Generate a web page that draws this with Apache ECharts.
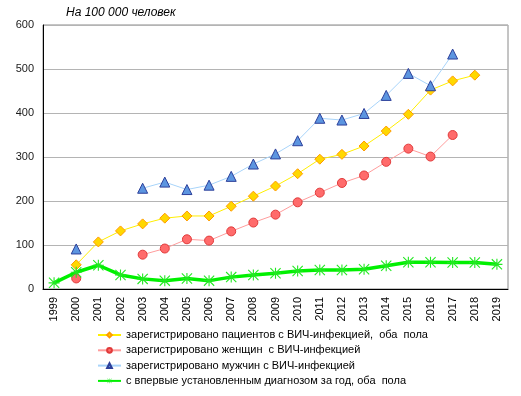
<!DOCTYPE html>
<html>
<head>
<meta charset="utf-8">
<script src="https://cdn.jsdelivr.net/npm/echarts@6/dist/echarts.min.js"></script>
<style>
  html, body { margin: 0; padding: 0; background: #fff; }
  #chart { width: 521px; height: 396px; }
</style>
</head>
<body>
<div id="chart"></div>
<script>
  // годы
  var years = ['1999', '2000', '2001', '2002', '2003', '2004', '2005', '2006', '2007', '2008', '2009',
    '2010', '2011', '2012', '2013', '2014', '2015', '2016', '2017', '2018', '2019']
  // на 100 000 человек
  var totalBoth = [null, 55, 107, 132, 148, 161, 166, 166, 188, 211, 234, 262, 295, 306, 325, 359, 397, 452, 473, 486, null]
  var women = [null, 24, null, null, 78, 92, 113, 110, 131, 151, 169, 197, 219, 241, 258, 289, 319, 301, 350, null, null]
  var men = [null, 91, null, null, 229, 243, 226, 236, 256, 284, 307, 337, 388, 384, 399, 440, 490, 462, 534, null, null]
  var newCases = [14, 38, 54, 32, 23, 19, 24, 19, 27, 32, 36, 41, 43, 43, 45, 53, 61, 61, 60, 60, 56]
  var yTicks = [0, 100, 200, 300, 400, 500, 600]

  var names = [
    'зарегистрировано пациентов с ВИЧ-инфекцией,  оба  пола',
    'зарегистрировано женщин  с ВИЧ-инфекцией',
    'зарегистрировано мужчин с ВИЧ-инфекцией',
    'с впервые установленным диагнозом за год, оба  пола'
  ]

  // звёздочка (*) для зелёной линии
  var asterisk = 'path://M4.5 0 L5.5 0 L5.5 10 L4.5 10 Z M0 4.5 L10 4.5 L10 5.5 L0 5.5 Z ' +
    'M0.7 0 L10 9.3 L9.3 10 L0 0.7 Z M9.3 0 L10 0.7 L0.7 10 L0 9.3 Z'

  var font = 'Arial, "Liberation Sans", sans-serif'
  var chart = echarts.init(document.getElementById('chart'), null, { renderer: 'canvas' })

  chart.setOption({
    animation: false,
    textStyle: { fontFamily: font },
    graphic: [{
      type: 'text',
      left: 66,
      top: 7,
      style: { text: 'На 100 000 человек', font: 'italic 12px ' + font, fill: '#000' }
    }],
    grid: {
      left: 43,
      right: 13,
      top: 25,
      bottom: 107,
      show: true,
      borderColor: '#8a8a8a',
      borderWidth: 1
    },
    legend: {
      orient: 'vertical',
      left: 92,
      top: 324,
      height: 70,
      itemWidth: 23,
      itemHeight: 6,
      itemGap: 3.3,
      textStyle: { fontSize: 11, color: '#000', fontFamily: font, lineHeight: 12 },
      data: names
    },
    xAxis: {
      type: 'category',
      data: years,
      boundaryGap: true,
      axisLine: { lineStyle: { color: '#000', width: 1 } },
      axisTick: { show: false },
      axisLabel: { rotate: 90, fontSize: 11, color: '#000', margin: 8, interval: 0 }
    },
    yAxis: {
      type: 'value',
      min: yTicks[0],
      max: yTicks[yTicks.length - 1],
      interval: 100,
      axisLine: { show: true, lineStyle: { color: '#000', width: 1 } },
      axisTick: { show: false },
      axisLabel: { fontSize: 11, color: '#1a1a1a', margin: 9 },
      splitLine: { lineStyle: { color: '#b4b4b4', width: 1 } }
    },
    series: [
      {
        name: names[0],
        type: 'line',
        data: totalBoth,
        symbol: 'diamond',
        symbolSize: 10,
        lineStyle: { color: '#ffee00', width: 1 },
        itemStyle: { color: '#ffd800', borderColor: '#ff9900', borderWidth: 1 }
      },
      {
        name: names[1],
        type: 'line',
        data: women,
        symbol: 'circle',
        symbolSize: 9,
        lineStyle: { color: '#ff9c9c', width: 1 },
        itemStyle: { color: '#ff6b6b', borderColor: '#e03a3a', borderWidth: 1 }
      },
      {
        name: names[2],
        type: 'line',
        data: men,
        symbol: 'triangle',
        symbolSize: 10,
        lineStyle: { color: '#a8d4fa', width: 1 },
        itemStyle: { color: '#5c95e0', borderColor: '#2c3f9a', borderWidth: 1 }
      },
      {
        name: names[3],
        type: 'line',
        data: newCases,
        symbol: asterisk,
        symbolSize: 11,
        lineStyle: { color: '#00f000', width: 3.5 },
        itemStyle: { color: '#22e822' }
      }
    ]
  })
</script>
</body>
</html>
